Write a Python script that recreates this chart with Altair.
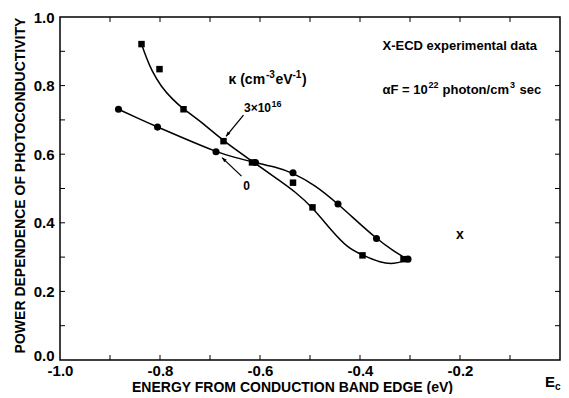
import altair as alt
import pandas as pd

# ---- data ----
# filled squares: K = 3x10^16 cm^-3 eV^-1
SQ_X = [-0.837, -0.801, -0.753, -0.673, -0.616, -0.534, -0.495, -0.395, -0.313]
SQ_Y = [0.921, 0.848, 0.731, 0.638, 0.576, 0.517, 0.445, 0.305, 0.294]
# filled circles: K = 0
CI_X = [-0.883, -0.805, -0.688, -0.609, -0.534, -0.444, -0.367, -0.304]
CI_Y = [0.731, 0.679, 0.607, 0.576, 0.546, 0.455, 0.354, 0.294]
# hand-drawn smooth curves
SQ_CURVE_X = [-0.837, -0.827, -0.817, -0.798, -0.775, -0.753, -0.722, -0.673, -0.613,
              -0.563, -0.530, -0.495, -0.458, -0.425, -0.395, -0.359, -0.331, -0.312]
SQ_CURVE_Y = [0.921, 0.880, 0.845, 0.797, 0.760, 0.731, 0.700, 0.638, 0.577,
              0.525, 0.491, 0.445, 0.379, 0.327, 0.306, 0.283, 0.280, 0.289]
CI_CURVE_X = [-0.883, -0.845, -0.805, -0.750, -0.688, -0.650, -0.613, -0.570, -0.534,
              -0.490, -0.444, -0.405, -0.367, -0.335, -0.306]
CI_CURVE_Y = [0.731, 0.705, 0.679, 0.645, 0.607, 0.590, 0.577, 0.563, 0.546,
              0.510, 0.455, 0.403, 0.354, 0.320, 0.294]
# X-ECD experimental point
XECD_X = [-0.20]
XECD_Y = [0.364]

# axis labels and minor ticks
X_LABELS = [-1.0, -0.8, -0.6, -0.4, -0.2]
Y_LABELS = [0.0, 0.2, 0.4, 0.6, 0.8, 1.0]
X_TICKS = [-0.9, -0.8, -0.7, -0.6, -0.5, -0.4, -0.3, -0.2, -0.1]
Y_TICKS = [0.1, 0.2, 0.3, 0.4, 0.5, 0.6, 0.7, 0.8, 0.9]

# arrows (tail -> head)
ARROW_ID = ["a16", "a16", "a0", "a0"]
ARROW_X = [-0.633, -0.668, -0.637, -0.676]
ARROW_Y = [0.714, 0.652, 0.536, 0.590]
HEAD_X = [-0.668, -0.676]
HEAD_Y = [0.652, 0.590]
HEAD_ANGLE = [219, 313]

W, H = 500, 343
FONT = "Liberation Sans"

xs = alt.Scale(domain=[-1.0, 0.0], nice=False, zero=False)
ys = alt.Scale(domain=[0.0, 1.0], nice=False, zero=False)

lab_expr = "replace(format(datum.value, '.1f'), '\u2212', '-')"

x_axis = alt.Axis(values=X_LABELS, labelExpr=lab_expr, ticks=False, domain=False, grid=False,
                  labelFont=FONT, labelFontWeight="bold", labelFontSize=15, labelColor="black",
                  labelPadding=3, labelFlush=False, labelOverlap=False,
                  title="ENERGY FROM CONDUCTION BAND EDGE (eV)", titleFont=FONT,
                  titleFontWeight="bold", titleFontSize=14, titleColor="black",
                  titleX=232, titleY=31, titleAlign="center", titleBaseline="alphabetic")
y_axis = alt.Axis(values=Y_LABELS, labelExpr=lab_expr, ticks=False, domain=False, grid=False,
                  labelFont=FONT, labelFontWeight="bold", labelFontSize=15, labelColor="black",
                  labelPadding=6, labelFlush=False, labelOverlap=False,
                  labelOffset={"condition": {"test": "datum.value == 0", "value": -5}, "value": 0},
                  title="POWER DEPENDENCE OF PHOTOCONDUCTIVITY", titleFont=FONT,
                  titleFontWeight="bold", titleFontSize=14, titleColor="black",
                  titleAngle=270, titleX=-36, titleY=168, titleAlign="center",
                  titleBaseline="alphabetic")

sq_df = pd.DataFrame({"x": SQ_X, "y": SQ_Y})
ci_df = pd.DataFrame({"x": CI_X, "y": CI_Y})
sqc_df = pd.DataFrame({"x": SQ_CURVE_X, "y": SQ_CURVE_Y})
cic_df = pd.DataFrame({"x": CI_CURVE_X, "y": CI_CURVE_Y})

base_line = alt.Chart(sqc_df).mark_line(color="black", strokeWidth=1.5, interpolate="basis").encode(
    x=alt.X("x:Q", scale=xs, axis=x_axis), y=alt.Y("y:Q", scale=ys, axis=y_axis))
ci_line = alt.Chart(cic_df).mark_line(color="black", strokeWidth=1.5, interpolate="basis").encode(
    x=alt.X("x:Q", scale=xs), y=alt.Y("y:Q", scale=ys))

sq_pts = alt.Chart(sq_df).mark_point(shape="square", filled=True, color="black", opacity=1, size=42).encode(
    x=alt.X("x:Q", scale=xs), y=alt.Y("y:Q", scale=ys))
ci_pts = alt.Chart(ci_df).mark_point(shape="circle", filled=True, color="black", opacity=1, size=50).encode(
    x=alt.X("x:Q", scale=xs), y=alt.Y("y:Q", scale=ys))

xecd = alt.Chart(pd.DataFrame({"x": XECD_X, "y": XECD_Y, "t": ["x"]})).mark_text(
    font=FONT, fontWeight="bold", fontSize=14, color="black", baseline="middle").encode(
    x=alt.X("x:Q", scale=xs), y=alt.Y("y:Q", scale=ys), text="t:N")

# inward ticks on all four sides
xt = pd.DataFrame({"v": X_TICKS})
yt = pd.DataFrame({"v": Y_TICKS})
tick_bottom = alt.Chart(xt).mark_rule(color="black", strokeWidth=1).encode(
    x=alt.X("v:Q", scale=xs), y=alt.value(H), y2=alt.value(H - 5))
tick_top = alt.Chart(xt).mark_rule(color="black", strokeWidth=1).encode(
    x=alt.X("v:Q", scale=xs), y=alt.value(0), y2=alt.value(5))
tick_left = alt.Chart(yt).mark_rule(color="black", strokeWidth=1).encode(
    y=alt.Y("v:Q", scale=ys), x=alt.value(0), x2=alt.value(5))
tick_right = alt.Chart(yt).mark_rule(color="black", strokeWidth=1).encode(
    y=alt.Y("v:Q", scale=ys), x=alt.value(W), x2=alt.value(W - 5))

# arrows
arr_df = pd.DataFrame({"id": ARROW_ID, "x": ARROW_X, "y": ARROW_Y})
arrows = alt.Chart(arr_df).mark_line(color="black", strokeWidth=1.3).encode(
    x=alt.X("x:Q", scale=xs), y=alt.Y("y:Q", scale=ys), detail="id:N")
heads = alt.Chart(pd.DataFrame({"x": HEAD_X, "y": HEAD_Y, "a": HEAD_ANGLE})).mark_point(
    shape="M0,0 L-0.55,1.5 L0.55,1.5 Z", filled=True, color="black", opacity=1, size=40).encode(
    x=alt.X("x:Q", scale=xs), y=alt.Y("y:Q", scale=ys), angle=alt.Angle("a:Q", scale=None))


# annotations (pieces composed so that superscripts are raised and smaller)
def piece(txt, x, y, size, dx=0, dy=0, align="left"):
    return alt.Chart(pd.DataFrame({"x": [x], "y": [y], "t": [txt]})).mark_text(
        font=FONT, fontWeight="bold", fontSize=size, color="black", align=align,
        baseline="alphabetic", dx=dx, dy=dy).encode(
        x=alt.X("x:Q", scale=xs), y=alt.Y("y:Q", scale=ys), text="t:N")


KX, KY = -0.663, 0.806
ann = [
    piece("\u03ba (cm", KX, KY, 14),
    piece("-3", KX, KY, 10, dx=37.5, dy=-6),
    piece("eV", KX, KY, 14, dx=47),
    piece("-1", KX, KY, 10, dx=64, dy=-6),
    piece(")", KX, KY, 14, dx=73.5),
]
TX, TY = -0.632, 0.723
ann += [
    piece("3\u00d710", TX, TY, 12),
    piece("16", TX, TY, 9, dx=27.5, dy=-5),
    piece("0", -0.627, 0.497, 12, align="center"),
]
AX = -0.355
ann += [
    piece("X-ECD experimental data", AX, 0.905, 13),
    piece("\u03b1F = 10", AX, 0.776, 13),
    piece("22", AX, 0.776, 9, dx=46, dy=-6),
    piece("photon/cm", AX, 0.776, 13, dx=60),
    piece("3", AX, 0.776, 9, dx=127.5, dy=-6),
    piece("sec", AX, 0.776, 13, dx=137),
]

ec = alt.Chart(pd.DataFrame({"t": ["E"]})).mark_text(
    font=FONT, fontWeight="bold", fontSize=15, color="black", align="left", baseline="alphabetic").encode(
    x=alt.value(W - 15), y=alt.value(H + 27), text="t:N")
ec_sub = alt.Chart(pd.DataFrame({"t": ["c"]})).mark_text(
    font=FONT, fontWeight="bold", fontSize=10, color="black", align="left", baseline="alphabetic").encode(
    x=alt.value(W - 5), y=alt.value(H + 30), text="t:N")

chart = alt.layer(base_line, ci_line, sq_pts, ci_pts, xecd, tick_bottom, tick_top, tick_left,
                  tick_right, arrows, heads, *ann, ec, ec_sub).properties(
    width=W, height=H, autosize=alt.AutoSizeParams(type="none"),
    padding={"left": 52, "top": 9, "right": 1, "bottom": 34},
    background="white",
).configure_view(stroke="black", strokeWidth=1.5)

chart.save("out.html", embed_options={"renderer": "svg", "actions": False})
